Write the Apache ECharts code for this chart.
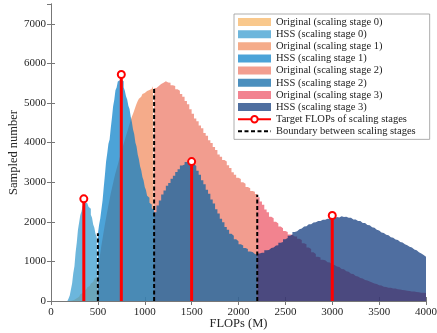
<!DOCTYPE html>
<html>
<head>
<meta charset="utf-8">
<script src="https://cdn.jsdelivr.net/npm/echarts@6/dist/echarts.min.js"></script>
<style>
  html, body { margin: 0; padding: 0; background: #fff; }
  #chart { width: 437px; height: 333px; }
</style>
</head>
<body>
<div id="chart"></div>
<script>
// stage ranges: first bin edge, end of the stage and bin width (FLOPs, M)
const stageStarts = [150, 500, 1100, 2200];
const stageEnds = [500, 1100, 2200, 4000];
const binWidths = [12.5, 12.5, 25, 25];

// Original distribution, one array per scaling stage
const orig0 = [0, 0, 0, 0, 0, 10, 20, 30, 50, 70, 90, 110, 140, 170, 200, 230, 260, 290,
  320, 350, 380, 410, 440, 480, 520, 560, 600, 640];
const orig1 = [800, 1000, 1200, 1400, 1580, 1760, 1940, 2100, 2260, 2420, 2570, 2720,
  2850, 2980, 3110, 3230, 3340, 3450, 3560, 3660, 3770, 3870, 3970, 4070, 4170, 4270,
  4370, 4470, 4570, 4650, 4730, 4810, 4900, 4980, 5050, 5110, 5160, 5200, 5230, 5250,
  5270, 5300, 5310, 5330, 5340, 5360, 5390, 5420];
const orig2 = [5380, 5430, 5480, 5510, 5550, 5520, 5510, 5450, 5430, 5350, 5310, 5230,
  5160, 5050, 4970, 4840, 4730, 4610, 4540, 4430, 4360, 4240, 4170, 4060, 3990, 3890,
  3810, 3700, 3640, 3560, 3520, 3430, 3360, 3250, 3190, 3110, 3080, 3000, 2960, 2880,
  2850, 2780, 2760, 2700];
const orig3 = [2620, 2510, 2430, 2310, 2240, 2130, 2090, 2000, 1960, 1880, 1840, 1770,
  1740, 1680, 1670, 1630, 1630, 1570, 1540, 1460, 1430, 1350, 1310, 1230, 1190, 1120,
  1100, 1040, 1030, 980, 970, 920, 910, 870, 860, 810, 800, 750, 740, 690, 680, 630,
  620, 580, 570, 530, 520, 490, 470, 440, 430, 400, 390, 360, 355, 335, 335, 315, 315,
  295, 290, 275, 270, 258, 255, 240, 238, 225, 222, 210, 208, 200];

// HSS distribution, one array per scaling stage
const hss0 = [0, 0, 0, 60, 140, 290, 440, 700, 880, 1230, 1480, 1800, 1980, 2170, 2260,
  2400, 2420, 2490, 2470, 2480, 2380, 2330, 2180, 2100, 1930, 1850, 1690, 1620];
const hss1 = [1700, 1920, 2080, 2310, 2540, 2870, 3180, 3520, 3730, 3970, 4080, 4370,
  4630, 4920, 5080, 5320, 5390, 5540, 5580, 5650, 5590, 5550, 5400, 5310, 5170, 5090,
  4930, 4850, 4660, 4520, 4330, 4220, 4000, 3900, 3700, 3580, 3400, 3300, 3130, 3040,
  2880, 2800, 2660, 2610, 2480, 2440, 2340, 2300];
const hss2 = [2240, 2410, 2540, 2690, 2790, 2910, 2980, 3090, 3160, 3260, 3330, 3420,
  3450, 3510, 3540, 3530, 3460, 3410, 3290, 3190, 3050, 2950, 2810, 2710, 2560, 2460,
  2320, 2210, 2080, 1990, 1870, 1800, 1700, 1650, 1560, 1510, 1430, 1400, 1340, 1310,
  1250, 1240, 1190, 1170];
const hss3 = [1200, 1220, 1220, 1280, 1290, 1340, 1350, 1400, 1410, 1470, 1490, 1560,
  1590, 1650, 1680, 1740, 1760, 1810, 1830, 1880, 1890, 1940, 1940, 1980, 1990, 2020,
  2020, 2050, 2050, 2080, 2070, 2100, 2090, 2120, 2110, 2140, 2120, 2130, 2100, 2100,
  2060, 2060, 2020, 2020, 1970, 1970, 1920, 1910, 1860, 1850, 1800, 1780, 1730, 1720,
  1670, 1660, 1610, 1600, 1550, 1540, 1490, 1480, 1430, 1410, 1370, 1350, 1300, 1280,
  1230, 1200, 1160, 1120];

// target FLOPs (red stems) and stage boundaries (dashed lines)
const targetFlops = [350, 750, 1500, 3000];
const targetCounts = [2580, 5720, 3520, 2160];
const boundaryFlops = [500, 1100, 2200];
const boundaryTops = [1710, 5390, 2680];

const origData = [orig0, orig1, orig2, orig3];
const hssData = [hss0, hss1, hss2, hss3];

// fill colours (drawn at 0.7 opacity) and the colours they give on white (legend)
const origFill = ['#F6B05B', '#F18858', '#EC7460', '#EC4E60'];
const hssFill = ['#2E97CD', '#007CC7', '#005FA2', '#043177'];
const origLegend = ['#F9C88C', '#F5AC8A', '#F29E90', '#F28390'];
const hssLegend = ['#6DB6DC', '#4CA3D8', '#4B8FBE', '#4F6FA0'];

const serif = 'Liberation Serif, Times New Roman, serif';

// left bin edges -> step points, last point closes the final bin
function steps(s, values) {
  const pts = values.map((v, i) => [stageStarts[s] + i * binWidths[s], v]);
  pts.push([stageEnds[s], values[values.length - 1]]);
  return pts;
}

function histSeries(name, pts, fill, legendColor) {
  return {
    name: name,
    type: 'line',
    step: 'end',
    data: pts,
    showSymbol: false,
    silent: true,
    lineStyle: { width: 0, opacity: 0 },
    itemStyle: { color: legendColor },
    areaStyle: { color: fill, opacity: 0.7 },
    z: 2
  };
}

const series = [];
const legendData = [];
for (let s = 0; s < 4; s++) {
  const on = 'Original (scaling stage ' + s + ')';
  const hn = 'HSS (scaling stage ' + s + ')';
  series.push(histSeries(on, steps(s, origData[s]), origFill[s], origLegend[s]));
  series.push(histSeries(hn, steps(s, hssData[s]), hssFill[s], hssLegend[s]));
  legendData.push({ name: on, icon: 'rect', itemStyle: { color: origLegend[s], borderWidth: 0, opacity: 1 } });
  legendData.push({ name: hn, icon: 'rect', itemStyle: { color: hssLegend[s], borderWidth: 0, opacity: 1 } });
}

// stems: base point without symbol, top point with circle, '-' breaks the line
const stemPts = [];
targetFlops.forEach((x, i) => {
  stemPts.push({ value: [x, 0], symbol: 'none' });
  stemPts.push({ value: [x, targetCounts[i]] });
  stemPts.push({ value: [x, '-'], symbol: 'none' });
});
const boundPts = [];
boundaryFlops.forEach((x, i) => {
  boundPts.push([x, 0]);
  boundPts.push([x, boundaryTops[i]]);
  boundPts.push([x, '-']);
});

series.push({
  name: 'Target FLOPs of scaling stages',
  type: 'line',
  data: stemPts,
  symbol: 'emptyCircle',
  symbolSize: 7,
  showSymbol: true,
  connectNulls: false,
  silent: true,
  lineStyle: { color: '#FF0000', width: 3 },
  itemStyle: { color: '#FF0000', borderWidth: 2 },
  z: 4
});
series.push({
  name: 'Boundary between scaling stages',
  type: 'line',
  data: boundPts,
  symbol: 'none',
  connectNulls: false,
  silent: true,
  lineStyle: { color: '#000', width: 2, type: [4, 2.5] },
  itemStyle: { color: '#000' },
  z: 3
});
legendData.push({ name: 'Target FLOPs of scaling stages' });
legendData.push({ name: 'Boundary between scaling stages', itemStyle: { opacity: 0 } });

const axisColor = '#777';
const labelStyle = { fontFamily: serif, fontSize: 11, color: '#262626', formatter: v => String(v) };

const chart = echarts.init(document.getElementById('chart'), null, { renderer: 'canvas' });
chart.setOption({
  backgroundColor: '#fff',
  animation: false,
  grid: { left: 51, right: 11, top: 4, bottom: 32, containLabel: false, outerBoundsMode: 'none' },
  legend: {
    orient: 'vertical',
    left: 234,
    top: 14,
    data: legendData,
    selectedMode: false,
    itemWidth: 33,
    itemHeight: 8,
    itemGap: 0.15,
    padding: [2, 14, 2, 3],
    backgroundColor: '#fff',
    borderColor: '#999',
    borderWidth: 0.8,
    borderRadius: 0,
    textStyle: { fontFamily: serif, fontSize: 10.5, color: '#222', lineHeight: 12 }
  },
  xAxis: [{
    type: 'value', min: 0, max: 4000, interval: 500, position: 'bottom',
    name: 'FLOPs (M)', nameLocation: 'middle', nameGap: 16, nameMoveOverlap: false,
    nameTextStyle: { fontFamily: serif, fontSize: 12.5, color: '#262626' },
    axisLine: { show: true, lineStyle: { color: axisColor, width: 1 } },
    axisTick: { show: true, inside: true, length: 4, lineStyle: { color: axisColor } },
    axisLabel: Object.assign({ margin: 6 }, labelStyle),
    splitLine: { show: false }
  }, {
    type: 'value', min: 0, max: 4000, interval: 500, position: 'top',
    axisLine: { show: true, lineStyle: { color: axisColor, width: 1 } },
    axisTick: { show: true, inside: true, length: 4, lineStyle: { color: axisColor } },
    axisLabel: { show: false },
    splitLine: { show: false }
  }],
  yAxis: [{
    type: 'value', min: 0, max: 7500, interval: 1000, position: 'left',
    name: 'Sampled number', nameLocation: 'middle', nameGap: 31, nameMoveOverlap: false,
    nameTextStyle: { fontFamily: serif, fontSize: 12.5, color: '#262626' },
    axisLine: { show: true, lineStyle: { color: axisColor, width: 1 } },
    axisTick: { show: true, inside: true, length: 4, lineStyle: { color: axisColor } },
    axisLabel: Object.assign({ margin: 5, showMaxLabel: false }, labelStyle),
    splitLine: { show: false }
  }, {
    type: 'value', min: 0, max: 7500, interval: 1000, position: 'right',
    axisLine: { show: true, lineStyle: { color: axisColor, width: 1 } },
    axisTick: { show: true, inside: true, length: 4, lineStyle: { color: axisColor } },
    axisLabel: { show: false },
    splitLine: { show: false }
  }],
  series: series
});
</script>
</body>
</html>
